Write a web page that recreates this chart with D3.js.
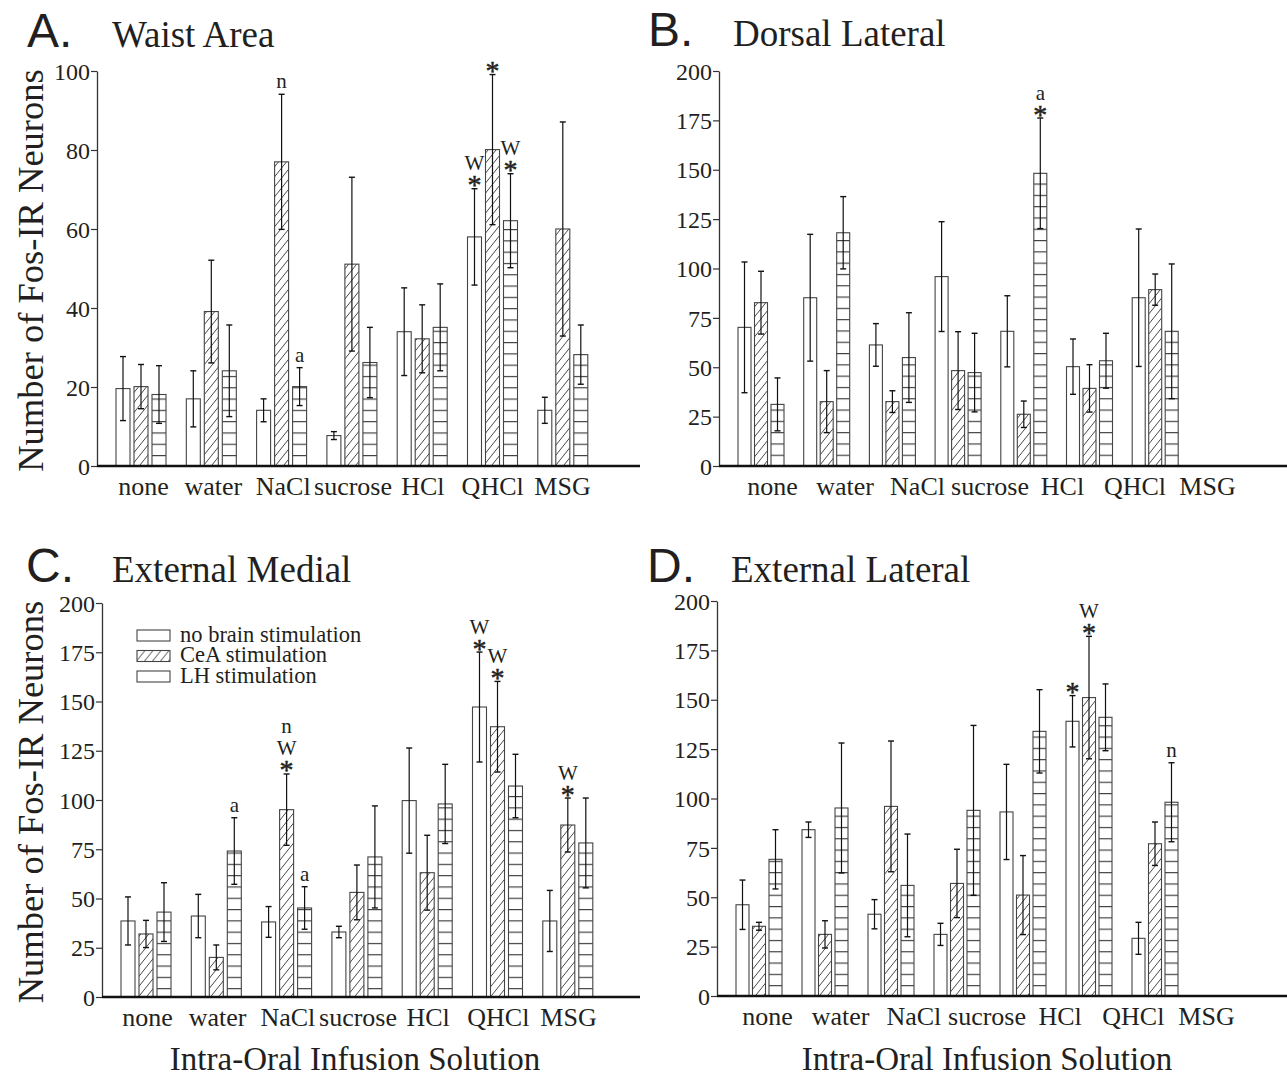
<!DOCTYPE html>
<html>
<head>
<meta charset="utf-8">
<script src="https://cdn.jsdelivr.net/npm/d3@7"></script>
<style>
  body { margin: 0; background: #fff; }
  text { font-family: "Liberation Serif", "Times New Roman", serif; fill: #231f20; }
</style>
</head>
<body>
<svg id="chart" width="1287" height="1077"></svg>
<script>
/* categories and groups shared by all four panels */
var categories = ["none", "water", "NaCl", "sucrose", "HCl", "QHCl", "MSG"];
var seriesNames = ["no brain stimulation", "CeA stimulation", "LH stimulation"];

/* A. Waist Area - rows: no stim, CeA, LH */
var waistMean = [[19.6, 17.0, 14.1, 7.7, 34.0, 58.0, 14.1],
                 [20.1, 39.1, 77.0, 51.1, 32.2, 80.1, 60.0],
                 [18.1, 24.1, 20.1, 26.2, 35.1, 62.1, 28.2]];
var waistErr  = [[8.1, 7.1, 2.9, 1.0, 11.1, 12.2, 3.3],
                 [5.6, 13.0, 17.1, 22.0, 8.6, 19.0, 27.1],
                 [7.3, 11.6, 4.8, 8.9, 11.0, 11.9, 7.5]];
var waistMarks = [["", "", "", "", "", "*W", ""],
                  ["", "", "n", "", "", "*", ""],
                  ["", "", "a", "", "", "*W", ""]];

/* B. Dorsal Lateral */
var dorsalMean = [[70.2, 85.2, 61.3, 95.9, 68.2, 50.3, 85.2],
                  [82.7, 32.6, 32.6, 48.3, 26.2, 39.3, 89.3],
                  [31.2, 118.1, 54.9, 47.3, 148.2, 53.3, 68.2]];
var dorsalErr  = [[33.1, 32.1, 10.8, 27.8, 18.0, 14.0, 34.8],
                  [15.9, 15.7, 5.5, 19.7, 6.7, 12.0, 7.9],
                  [13.4, 18.3, 22.7, 19.9, 28.0, 13.9, 34.1]];
var dorsalMarks = [["", "", "", "", "", "", ""],
                   ["", "", "", "", "", "", ""],
                   ["", "", "", "", "*a", "", ""]];

/* C. External Medial */
var medialMean = [[38.6, 41.1, 38.1, 33.0, 99.7, 147.2, 38.6],
                  [32.0, 20.1, 95.1, 53.1, 63.1, 137.2, 87.3],
                  [43.1, 74.1, 45.2, 71.1, 98.0, 107.1, 78.2]];
var medialErr  = [[12.2, 11.0, 7.8, 2.9, 26.7, 27.9, 15.5],
                  [6.9, 6.3, 18.1, 13.9, 19.0, 23.0, 13.7],
                  [14.9, 16.9, 10.8, 25.9, 20.1, 16.1, 22.8]];
var medialMarks = [["", "", "", "", "", "*W", ""],
                   ["", "", "*Wn", "", "", "*W", "*W"],
                   ["", "a", "a", "", "", "", ""]];

/* D. External Lateral */
var lateralMean = [[46.2, 84.2, 41.4, 31.2, 93.2, 139.1, 29.2],
                   [35.3, 31.2, 96.0, 57.0, 51.1, 151.1, 77.1],
                   [69.2, 95.2, 56.0, 94.0, 134.0, 141.1, 98.1]];
var lateralErr  = [[12.5, 3.9, 7.4, 5.6, 24.1, 13.0, 8.1],
                   [2.0, 6.9, 33.1, 17.3, 20.0, 31.0, 11.0],
                   [15.0, 32.9, 26.0, 43.0, 21.1, 16.9, 20.0]];
var lateralMarks = [["", "", "", "", "", "*", ""],
                    ["", "", "", "", "", "*W", ""],
                    ["", "", "", "", "", "", "n"]];

var svg = d3.select("#chart");
var defs = svg.append("defs");

/* diagonal hatch used for CeA bars */
var diag = defs.append("pattern").attr("id", "diag")
  .attr("patternUnits", "userSpaceOnUse").attr("width", 8).attr("height", 10);
diag.append("path").attr("d", "M0,10 L8,0 M-2,2.5 L2,-2.5 M6,12.5 L10,7.5")
  .attr("stroke", "#333").attr("stroke-width", 0.9);

/* horizontal lines used for LH bars, one pattern per baseline */
function hzPattern(id, yStart) {
  var p = defs.append("pattern").attr("id", id)
    .attr("patternUnits", "userSpaceOnUse").attr("width", 10).attr("height", 11.3)
    .attr("y", yStart);
  p.append("rect").attr("width", 10).attr("height", 11.3).attr("fill", "#fff");
  p.append("line").attr("x1", 0).attr("x2", 10).attr("y1", 0.6).attr("y2", 0.6)
    .attr("stroke", "#333").attr("stroke-width", 1.1);
}

var panels = [
  {id: "A", letter: "A.", title: "Waist Area", mean: waistMean, err: waistErr, marks: waistMarks,
   yMax: 100, tickStep: 20, ax: 97, x0: 116, gStep: 70.3, bStep: 18, bw: 14, lab0: 143, lab1: 562,
   yB: 466, yT: 71, xEnd: 640, headY: 47, letterX: 27, titleX: 112, hzOff: 10.4, yTitle: true, xTitle: false},
  {id: "B", letter: "B.", title: "Dorsal Lateral", mean: dorsalMean, err: dorsalErr, marks: dorsalMarks,
   yMax: 200, tickStep: 25, ax: 719, x0: 738, gStep: 65.7, bStep: 16.5, bw: 13, lab0: 772, lab1: 1207,
   yB: 466, yT: 71, xEnd: 1287, headY: 46, letterX: 648, titleX: 733, hzOff: 10.7, yTitle: false, xTitle: false},
  {id: "C", letter: "C.", title: "External Medial", mean: medialMean, err: medialErr, marks: medialMarks,
   yMax: 200, tickStep: 25, ax: 102, x0: 121, gStep: 70.3, bStep: 18, bw: 14, lab0: 147, lab1: 568,
   yB: 997, yT: 603, xEnd: 640, headY: 582, letterX: 26, titleX: 112, hzOff: 8.3, yTitle: true, xTitle: true, xtc: 355},
  {id: "D", letter: "D.", title: "External Lateral", mean: lateralMean, err: lateralErr, marks: lateralMarks,
   yMax: 200, tickStep: 25, ax: 717, x0: 736, gStep: 66, bStep: 16.5, bw: 13, lab0: 767, lab1: 1206,
   yB: 996, yT: 601, xEnd: 1287, headY: 582, letterX: 647, titleX: 731, hzOff: 10.3, yTitle: false, xTitle: true, xtc: 987}
];

function drawPanel(p) {
  var g = svg.append("g");
  hzPattern("hz" + p.id, p.yB - p.hzOff - 0.6);
  var fills = ["#fff", "url(#diag)", "url(#hz" + p.id + ")"];

  var groupW = 2 * p.bStep + p.bw;
  var pad = (p.gStep - groupW) / p.gStep;
  var r0 = p.x0 - (p.gStep - groupW) / 2;
  var x = d3.scaleBand().domain(categories).range([r0, r0 + 7 * p.gStep])
    .paddingInner(pad).paddingOuter(pad / 2);
  var xs = d3.scaleBand().domain([0, 1, 2]).range([0, groupW])
    .paddingInner((p.bStep - p.bw) / p.bStep).paddingOuter(0);
  var xl = d3.scalePoint().domain(categories).range([p.lab0, p.lab1]);
  var y = d3.scaleLinear().domain([0, p.yMax]).range([p.yB, p.yT]);

  // y axis
  var yAxis = g.append("g").attr("transform", "translate(" + p.ax + ",0)")
    .call(d3.axisLeft(y).tickValues(d3.range(0, p.yMax + 1, p.tickStep))
      .tickSize(6).tickSizeOuter(0).tickPadding(1));
  yAxis.select(".domain").attr("stroke", "#333").attr("stroke-width", 1.3);
  yAxis.selectAll(".tick line").attr("stroke", "#333").attr("stroke-width", 1.2);
  yAxis.selectAll(".tick text").style("font-family", "'Liberation Serif', serif")
    .style("font-size", "24px").attr("fill", "#231f20").attr("dy", "0.34em");

  // bars
  p.mean.forEach(function (row, s) {
    g.selectAll(".bar" + s).data(row).enter().append("rect")
      .attr("x", function (d, i) { return x(categories[i]) + xs(s); })
      .attr("y", function (d) { return y(d); })
      .attr("width", xs.bandwidth())
      .attr("height", function (d) { return p.yB - y(d); })
      .attr("fill", fills[s]).attr("stroke", "#444").attr("stroke-width", 1.1);
  });

  // error bars and significance marks
  p.mean.forEach(function (row, s) {
    row.forEach(function (m, i) {
      var e = p.err[s][i];
      var cx = x(categories[i]) + xs(s) + xs.bandwidth() / 2;
      var yt = y(m + e), yb = y(m - e);
      g.append("line").attr("x1", cx).attr("x2", cx).attr("y1", yt).attr("y2", yb)
        .attr("stroke", "#111").attr("stroke-width", 1.2);
      [yt, yb].forEach(function (yy) {
        g.append("line").attr("x1", cx - 3).attr("x2", cx + 3).attr("y1", yy).attr("y2", yy)
          .attr("stroke", "#111").attr("stroke-width", 1.4);
      });
      var cur = yt, prevStar = null;
      p.marks[s][i].split("").forEach(function (c) {
        if (c === "*") {
          g.append("text").attr("x", cx).attr("y", cur + 5.5).attr("text-anchor", "middle")
            .style("font-size", "28px").attr("stroke", "#231f20").attr("stroke-width", 0.5).text("*");
          cur = cur - 13; prevStar = true;
        } else {
          var base = cur - (prevStar === null ? 6 : (prevStar ? 5.5 : 8));
          g.append("text").attr("x", cx).attr("y", base).attr("text-anchor", "middle")
            .style("font-size", "21px").text(c);
          cur = base - 14.5; prevStar = false;
        }
      });
    });
  });

  // x axis: labels via d3 axis on a point scale, heavy baseline drawn across the panel
  var xAxis = g.append("g").attr("transform", "translate(0," + p.yB + ")")
    .call(d3.axisBottom(xl).tickSize(0));
  xAxis.select(".domain").remove();
  xAxis.selectAll(".tick text").attr("y", 29).attr("dy", 0)
    .style("font-family", "'Liberation Serif', serif").style("font-size", "26px").attr("fill", "#231f20");
  g.append("line").attr("x1", p.ax).attr("x2", p.xEnd).attr("y1", p.yB).attr("y2", p.yB)
    .attr("stroke", "#111").attr("stroke-width", 2.4);

  // headings
  g.append("text").attr("x", p.letterX).attr("y", p.headY)
    .style("font-family", "'Liberation Sans', Arial, sans-serif").style("font-size", "48px")
    .text(p.letter);
  g.append("text").attr("x", p.titleX).attr("y", p.headY).style("font-size", "37px").text(p.title);

  if (p.yTitle) {
    g.append("text").attr("transform", "translate(43," + ((p.yB + p.yT) / 2 + 2) + ") rotate(-90)")
      .attr("text-anchor", "middle").style("font-size", "36.5px").text("Number of Fos-IR Neurons");
  }
  if (p.xTitle) {
    g.append("text").attr("x", p.xtc).attr("y", 1070)
      .attr("text-anchor", "middle").style("font-size", "33px").text("Intra-Oral Infusion Solution");
  }
  return g;
}

panels.forEach(drawPanel);

/* legend inside panel C */
var legPat = defs.append("pattern").attr("id", "hzLeg")
  .attr("patternUnits", "userSpaceOnUse").attr("width", 10).attr("height", 30).attr("y", 670);
legPat.append("rect").attr("width", 10).attr("height", 30).attr("fill", "#fff");
legPat.append("line").attr("x1", 0).attr("x2", 10).attr("y1", 6).attr("y2", 6)
  .attr("stroke", "#555").attr("stroke-width", 1.6);

var legFills = ["#fff", "url(#diag)", "url(#hzLeg)"];
var leg = svg.append("g").attr("transform", "translate(137,630)");
var legRow = leg.selectAll("g").data(seriesNames).enter().append("g")
  .attr("transform", function (d, i) { return "translate(0," + (i * 20.5) + ")"; });
legRow.append("rect").attr("width", 33).attr("height", 11)
  .attr("fill", function (d, i) { return legFills[i]; })
  .attr("stroke", "#444").attr("stroke-width", 1.1);
legRow.append("text").attr("x", 43).attr("y", 11.5).style("font-size", "22.5px")
  .text(function (d) { return d; });
</script>
</body>
</html>
